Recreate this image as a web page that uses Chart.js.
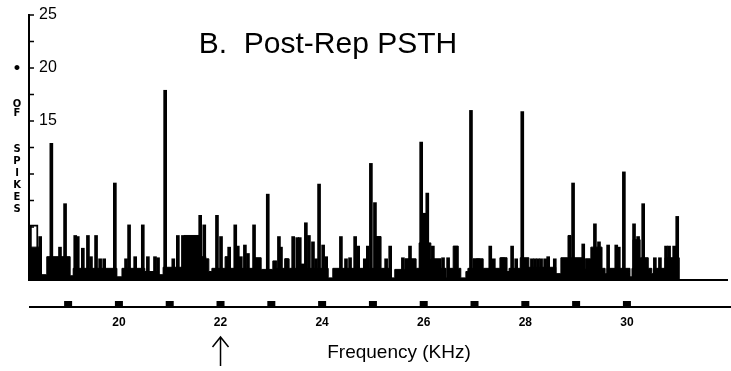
<!DOCTYPE html>
<html>
<head>
<meta charset="utf-8">
<script src="https://cdn.jsdelivr.net/npm/chart.js@4.4.0/dist/chart.umd.min.js"></script>
<style>
  html, body { margin: 0; padding: 0; background: #fff; }
  canvas { display: block; }
</style>
</head>
<body>
<canvas id="psth" width="731" height="371"></canvas>
<script>
// solid floor of the histogram: frequency (kHz) where a level starts, spike count
const baseFreq = [18.23, 18.47, 18.58, 19.04, 19.10, 19.96, 20.06, 20.51, 20.75, 20.87,
  21.28, 21.58, 21.71, 21.77, 21.83, 22.09, 22.17, 22.68, 22.80, 23.03,
  23.11, 23.27, 23.35, 23.58, 23.66, 24.12, 24.21, 25.06, 25.16, 25.36,
  25.43, 25.63, 25.85, 25.91, 26.14, 26.34, 26.44, 26.48, 26.58, 26.68,
  26.73, 26.83, 26.87, 26.97, 27.17, 27.50, 27.64, 27.68, 27.90, 28.07,
  28.60, 28.70, 28.84, 28.90, 29.14, 29.18, 29.29, 29.51, 29.57, 29.61,
  30.06, 30.10, 30.12, 30.26, 30.42, 30.49, 30.53, 30.75, 31.03, 31.97];
const baseCount = [3.1, 0.5, 2.2, 0.4, 1.1, 0.3, 1.1, 0.8, 0.5, 1.2,
  4.2, 2.2, 2.0, 0.8, 1.1, 2.2, 1.1, 2.1, 1.0, 1.8,
  1.1, 2.0, 1.1, 1.5, 1.1, 0.2, 1.1, 4.1, 1.1, 0.2,
  1.0, 2.0, 1.1, 3.5, 2.0, 1.1, 0.2, 1.1, 3.2, 1.1,
  0.2, 0.8, 1.1, 2.0, 1.1, 2.1, 0.8, 1.1, 2.1, 1.2,
  0.6, 2.1, 4.2, 2.1, 1.1, 2.0, 3.1, 1.1, 0.6, 1.1,
  0.3, 1.1, 3.8, 2.1, 1.1, 0.6, 1.1, 2.1, 0, 0];

// narrow bins sticking out above the floor
const spikeFreq = [18.45, 18.67, 18.84, 18.94, 19.14, 19.19, 19.29, 19.39, 19.45, 19.55,
  19.63, 19.71, 19.92, 20.14, 20.20, 20.32, 20.47, 20.57, 20.71, 20.77,
  20.91, 21.07, 21.16, 21.26, 21.60, 21.68, 21.93, 22.01, 22.17, 22.29,
  22.34, 22.40, 22.48, 22.54, 22.66, 22.93, 23.15, 23.19, 23.29, 23.43,
  23.51, 23.56, 23.68, 23.74, 23.82, 23.88, 23.94, 24.02, 24.08, 24.37,
  24.47, 24.55, 24.65, 24.71, 24.84, 24.90, 24.96, 25.04, 25.26, 25.34,
  25.59, 25.73, 25.95, 26.01, 26.07, 26.18, 26.38, 26.48, 26.93, 27.07,
  27.31, 27.38, 27.56, 27.74, 27.82, 27.94, 28.13, 28.19, 28.25, 28.31,
  28.39, 28.45, 28.58, 28.94, 29.14, 29.37, 29.45, 29.63, 29.79, 29.84,
  29.94, 30.14, 30.22, 30.32, 30.55, 30.65, 30.77, 30.83, 30.93, 30.99];
const spikeCount = [4.1, 12.9, 3.1, 7.2, 4.2, 4.1, 3.0, 4.2, 2.2, 4.2,
  2.0, 2.0, 9.15, 2.0, 5.2, 2.2, 5.2, 2.2, 2.2, 2.1,
  17.9, 2.0, 4.2, 4.2, 6.1, 5.2, 6.1, 4.1, 3.1, 5.2,
  3.2, 2.2, 3.3, 2.5, 5.2, 8.1, 4.1, 3.1, 2.0, 4.1,
  4.0, 4.0, 5.4, 4.2, 3.6, 2.0, 9.05, 3.3, 2.2, 4.1,
  2.0, 2.1, 4.1, 3.2, 2.0, 3.2, 11.0, 7.3, 2.0, 3.2,
  2.1, 3.2, 13.0, 6.3, 8.2, 3.2, 2.1, 2.1, 16.0, 2.0,
  3.2, 2.0, 2.1, 3.2, 2.0, 15.9, 2.0, 2.0, 2.0, 2.0,
  2.0, 2.2, 2.0, 9.15, 3.4, 5.3, 3.6, 3.3, 3.3, 3.1,
  10.2, 5.3, 4.1, 7.2, 2.1, 2.1, 3.2, 3.2, 3.2, 6.0];

// the open box at the very start of the sweep
const boxFreq = [18.33];
const boxCount = [5.2];

const markerFreqs = [19, 20, 21, 22, 23, 24, 25, 26, 27, 28, 29, 30];
const tickLabels = [20, 22, 24, 26, 28, 30];
const yLabels = [15, 20, 25];
const stimFreq = 22;

Chart.defaults.color = '#000';
Chart.defaults.font.family = '"Liberation Sans", Arial, sans-serif';

const extras = {
  id: 'extras',
  afterDraw(chart) {
    const ctx = chart.ctx;
    const xs = chart.scales.x;
    const ys = chart.scales.y;
    const area = chart.chartArea;
    ctx.save();
    ctx.fillStyle = '#000';
    ctx.strokeStyle = '#000';

    // y ticks point into the plot
    ctx.lineWidth = 1.5;
    ctx.beginPath();
    ys.ticks.forEach(t => {
      const py = ys.getPixelForValue(t.value);
      ctx.moveTo(area.left, py);
      ctx.lineTo(area.left + 5, py);
    });
    ctx.stroke();

    // title
    ctx.font = '30px "Liberation Sans", Arial, sans-serif';
    ctx.textAlign = 'center';
    ctx.textBaseline = 'alphabetic';
    ctx.fillText('B.  Post-Rep PSTH', 328, 53);

    // stacked y label
    ctx.textBaseline = 'middle';
    ctx.font = 'bold 14px "DejaVu Sans", sans-serif';
    ctx.fillText('•', 17, 69);
    ctx.font = 'bold 10px "DejaVu Sans", sans-serif';
    const letters = [['O', 104], ['F', 113], ['S', 149], ['P', 161],
      ['I', 173], ['K', 185], ['E', 197], ['S', 209]];
    letters.forEach(([ch, y]) => ctx.fillText(ch, 17, y));

    // marker strip under the histogram
    const stripY = area.bottom + 27;
    ctx.lineWidth = 2;
    ctx.beginPath();
    ctx.moveTo(area.left, stripY);
    ctx.lineTo(chart.width, stripY);
    ctx.stroke();
    markerFreqs.forEach(f => {
      const px = xs.getPixelForValue(f);
      ctx.fillRect(px - 4, stripY - 6, 8, 6);
    });

    // arrow at the repeated frequency
    const ax = xs.getPixelForValue(stimFreq);
    ctx.lineWidth = 1.5;
    ctx.beginPath();
    ctx.moveTo(ax, area.bottom + 86);
    ctx.lineTo(ax, area.bottom + 57);
    ctx.moveTo(ax - 8, area.bottom + 67);
    ctx.lineTo(ax, area.bottom + 57);
    ctx.lineTo(ax + 8, area.bottom + 67);
    ctx.stroke();

    // x axis title
    ctx.font = '19px "Liberation Sans", Arial, sans-serif';
    ctx.fillText('Frequency (KHz)', 399, 353);
    ctx.restore();
  }
};

new Chart(document.getElementById('psth'), {
  type: 'bar',
  data: {
    datasets: [
      {
        type: 'bar',
        label: 'spikes',
        data: spikeFreq.map((f, i) => ({ x: f, y: spikeCount[i] })),
        backgroundColor: '#000',
        barThickness: 3,
        grouped: false,
        order: 1
      },
      {
        type: 'line',
        label: 'floor',
        data: baseFreq.map((f, i) => ({ x: f, y: baseCount[i] })),
        stepped: true,
        fill: 'origin',
        backgroundColor: '#000',
        borderColor: '#000',
        borderWidth: 1,
        pointRadius: 0,
        order: 2
      },
      {
        type: 'bar',
        label: 'box',
        data: boxFreq.map((f, i) => ({ x: f, y: boxCount[i] })),
        backgroundColor: '#fff',
        borderColor: '#000',
        borderWidth: 2,
        barThickness: 8,
        grouped: false,
        order: 3
      }
    ]
  },
  options: {
    responsive: false,
    animation: false,
    layout: { padding: { top: 15, right: 4, left: 0, bottom: 0 } },
    plugins: { legend: { display: false }, tooltip: { enabled: false } },
    scales: {
      x: {
        type: 'linear',
        min: 18.23,
        max: 31.97,
        offset: false,
        grid: { display: false, drawTicks: false },
        border: { display: true, color: '#000', width: 2 },
        ticks: {
          stepSize: 1,
          autoSkip: false,
          maxRotation: 0,
          padding: 35,
          font: { size: 12, weight: 'bold' },
          callback: (v) => tickLabels.includes(v) ? String(v) : ''
        },
        afterFit: (axis) => {
          axis.height = 91;
          axis.paddingLeft = 0;
          axis.paddingRight = 0;
        }
      },
      y: {
        min: 0,
        max: 25,
        grid: { drawOnChartArea: false, drawTicks: false },
        border: { display: true, color: '#000', width: 2 },
        ticks: {
          stepSize: 2.5,
          mirror: true,
          padding: 10,
          font: { size: 16 },
          callback: (v) => yLabels.includes(v) ? String(v) : ''
        },
        afterFit: (axis) => {
          axis.width = 29;
          axis.paddingTop = 0;
          axis.paddingBottom = 0;
        }
      }
    }
  },
  plugins: [extras]
});
</script>
</body>
</html>
